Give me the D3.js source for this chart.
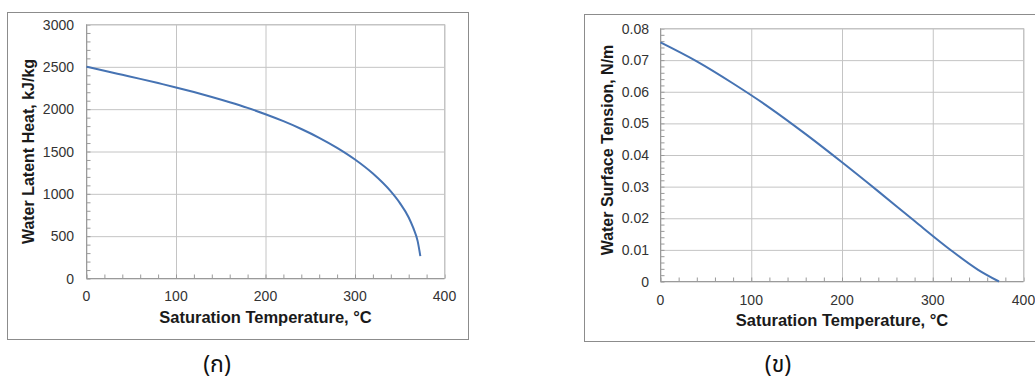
<!DOCTYPE html>
<html><head><meta charset="utf-8">
<script src="https://cdn.jsdelivr.net/npm/d3@7"></script>
<style>
html,body{margin:0;padding:0;background:#fff;}
svg{display:block;}
</style></head>
<body>
<svg id="c" width="1035" height="385"></svg>
<script>
// ---- data ----
const latentT = [0,20,40,60,80,100,120,140,160,180,200,220,240,260,280,300,320,340,350,360,365,370,373];
const latentH = [2501,2454,2406,2358,2308,2257,2202,2144,2082,2015,1940,1858,1766,1662,1543,1405,1239,1028,893,721,600,441,265];
const tensionT = [0,40,80,120,160,200,240,280,320,350,373];
const tensionS = [0.0756,0.0696,0.0626,0.0550,0.0466,0.0377,0.0285,0.0191,0.0099,0.0037,0.0];
const xTicks = [0,100,200,300,400];
const yTicksA = [0,500,1000,1500,2000,2500,3000];
const yTicksB = [0,0.01,0.02,0.03,0.04,0.05,0.06,0.07,0.08];
const xTitle = "Saturation Temperature, °C";
const yTitleA = "Water Latent Heat, kJ/kg";
const yTitleB = "Water Surface Tension, N/m";
const captions = ["(ก)", "(ข)"];

const svg = d3.select("#c");
const FONT = "'Liberation Sans', Arial, sans-serif";
const LINE = "#4673b3";
const GRID = "#c4c4c4";
const AXIS = "#9a9a9a";

function panel(o){
  const g = svg.append("g");
  g.append("rect").attr("x",o.frame[0]+0.5).attr("y",o.frame[1]+0.5)
    .attr("width",o.frame[2]).attr("height",o.frame[3])
    .attr("fill","none").attr("stroke","#8c8c8c").attr("stroke-width",1);
  const x = d3.scaleLinear().domain([0,400]).range([o.x0,o.x1]);
  const y = d3.scaleLinear().domain([0,o.ymax]).range([o.y1,o.y0]);
  g.append("g").attr("transform",`translate(0,${o.y1})`)
    .call(d3.axisBottom(x).tickValues(xTicks).tickSize(-(o.y1-o.y0)).tickFormat(""))
    .call(s=>s.select(".domain").remove())
    .call(s=>s.selectAll("line").attr("stroke",GRID));
  g.append("g").attr("transform",`translate(${o.x0},0)`)
    .call(d3.axisLeft(y).tickValues(o.yTicks).tickSize(-(o.x1-o.x0)).tickFormat(""))
    .call(s=>s.select(".domain").remove())
    .call(s=>s.selectAll("line").attr("stroke",GRID));
  g.append("g").attr("transform",`translate(0,${o.y1})`)
    .call(d3.axisTop(x).tickValues(d3.range(0,401,20)).tickSize(4).tickFormat(""))
    .call(s=>s.select(".domain").remove())
    .call(s=>s.selectAll("line").attr("stroke",AXIS));
  const step = o.ymax/(o.yTicks.length-1)/5;
  g.append("g").attr("transform",`translate(${o.x0},0)`)
    .call(d3.axisRight(y).tickValues(d3.range(0,(o.yTicks.length-1)*5+1).map(i=>i*step)).tickSize(4).tickFormat(""))
    .call(s=>s.select(".domain").remove())
    .call(s=>s.selectAll("line").attr("stroke",AXIS));
  g.append("rect").attr("x",o.x0).attr("y",o.y0).attr("width",o.x1-o.x0).attr("height",o.y1-o.y0)
    .attr("fill","none").attr("stroke",GRID);
  g.append("line").attr("x1",o.x0).attr("x2",o.x1).attr("y1",o.y1).attr("y2",o.y1).attr("stroke",AXIS);
  g.append("line").attr("x1",o.x0).attr("x2",o.x0).attr("y1",o.y0).attr("y2",o.y1).attr("stroke",AXIS);
  g.selectAll(".xl").data(xTicks).join("text")
    .attr("x",d=>x(d)).attr("y",o.y1+o.xlab).attr("text-anchor","middle")
    .attr("font-family",FONT).attr("font-size",14).attr("fill","#333").text(d=>d);
  g.selectAll(".yl").data(o.yTicks).join("text")
    .attr("x",o.x0-o.ylab).attr("y",d=>y(d)).attr("dy","0.36em").attr("text-anchor","end")
    .attr("font-family",FONT).attr("font-size",14).attr("fill","#333").text(o.fmt);
  g.append("text").attr("x",(o.x0+o.x1)/2).attr("y",o.xtY).attr("text-anchor","middle")
    .attr("font-family",FONT).attr("font-size",16.5).attr("font-weight","bold").attr("fill","#1a1a1a").text(xTitle);
  g.append("text").attr("transform",`translate(${o.ytX},${o.ytY}) rotate(-90)`).attr("text-anchor","middle")
    .attr("font-family",FONT).attr("font-size",16).attr("font-weight","bold").attr("fill","#1a1a1a").text(o.yTitle);
  const pts = o.xs.map((t,i)=>[t,o.ys[i]]);
  g.append("path").datum(pts)
    .attr("d",d3.line().x(d=>x(d[0])).y(d=>y(d[1])).curve(d3.curveMonotoneX))
    .attr("fill","none").attr("stroke",LINE).attr("stroke-width",2);
  g.append("text").attr("x",o.capX).attr("y",372).attr("text-anchor","middle")
    .attr("font-family","'Noto Sans Thai','Noto Sans','DejaVu Sans',sans-serif").attr("font-size",23).attr("fill","#111").text(o.cap);
}

panel({frame:[7,12,461,327], x0:86.5, x1:444.5, y0:24.5, y1:278.5, ymax:3000, yTicks:yTicksA,
  fmt:d=>d, xlab:22.5, ylab:12.5, xtY:323, ytX:34, ytY:151.5, yTitle:yTitleA,
  xs:latentT, ys:latentH, capX:217, cap:captions[0]});
panel({frame:[584,14,460,327], x0:660.5, x1:1023.5, y0:28.5, y1:281.5, ymax:0.08, yTicks:yTicksB,
  fmt:d=>d===0?"0":d3.format(".2f")(d), xlab:23, ylab:11.5, xtY:326, ytX:613, ytY:150, yTitle:yTitleB,
  xs:tensionT, ys:tensionS, capX:778, cap:captions[1]});
</script>
</body></html>
